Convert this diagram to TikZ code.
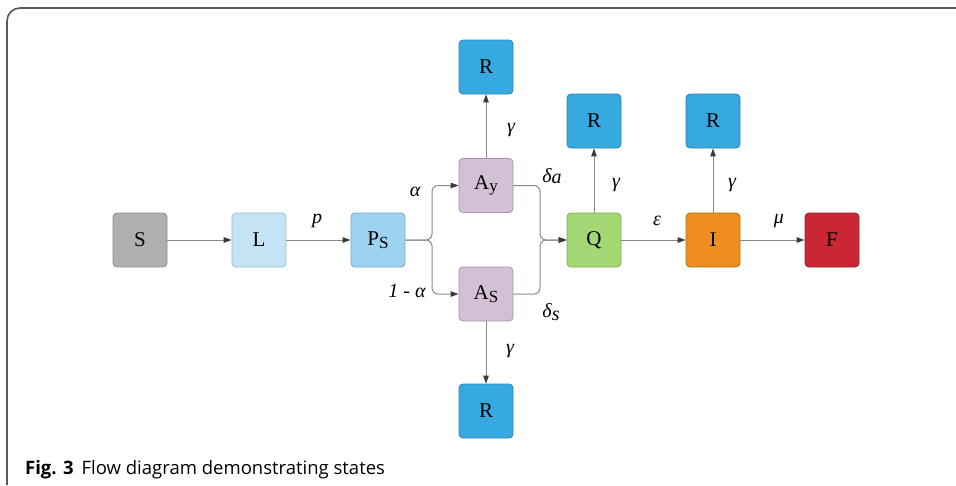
\documentclass[tikz,border=0pt]{standalone}
\usepackage{fontspec}
\setmainfont{Liberation Serif}
\newfontfamily\capfont{Open Sans}
\usetikzlibrary{arrows.meta}
\definecolor{cS}{HTML}{AFAFAF}\definecolor{bS}{HTML}{8C8C8C}
\definecolor{cL}{HTML}{C4E4F6}\definecolor{bL}{HTML}{9CBFD4}
\definecolor{cP}{HTML}{9BD3F1}\definecolor{bP}{HTML}{74A9C8}
\definecolor{cA}{HTML}{D4BFD7}\definecolor{bA}{HTML}{A892AC}
\definecolor{cR}{HTML}{36A9E0}\definecolor{bR}{HTML}{2A84B0}
\definecolor{cQ}{HTML}{A3D875}\definecolor{bQ}{HTML}{7EAD55}
\definecolor{cI}{HTML}{EE8E1E}\definecolor{bI}{HTML}{B56C17}
\definecolor{cF}{HTML}{CA2634}\definecolor{bF}{HTML}{9A1D28}
\definecolor{edge}{HTML}{8A8A8A}
\definecolor{tip}{HTML}{3A3A3A}
\newcommand{\sub}[1]{\raisebox{-2.5pt}{\fontsize{17}{17}\selectfont #1}}
\tikzset{
  box/.style={draw=b#1, fill=c#1, rounded corners=4pt, line width=0.8pt,
    minimum width=54pt, minimum height=54pt, inner sep=0pt,
    font=\fontsize{21}{21}\selectfont},
  flow/.style={draw=edge, line width=1pt, -{Triangle[length=8pt,width=5.5pt,color=tip]}},
  lab/.style={font=\fontsize{20}{20}\selectfont\itshape, inner sep=0pt},
}
\begin{document}
\begin{tikzpicture}[x=1pt,y=-1pt]
\useasboundingbox (0,0) rectangle (956,485);
% frame
\draw[color=black!65, line width=1.6pt, rounded corners=13pt] (956,8) -- (7,8) -- (7,485);
% nodes
\node[box=S] (S) at (140,240) {S};
\node[box=L] (L) at (259,240) {L};
\node[box=P] (Ps) at (378,240) {P\sub{S}};
\node[box=A] (Ay) at (486,185.5) {A\sub{y}};
\node[box=A] (As) at (486,294) {A\sub{S}};
\node[box=R] (R1) at (486,67) {R};
\node[box=R] (R2) at (486,411) {R};
\node[box=Q] (Q) at (594,240) {Q};
\node[box=R] (R3) at (594,121) {R};
\node[box=I] (I) at (713,240) {I};
\node[box=R] (R4) at (713,121) {R};
\node[box=F] (F) at (832,240) {F};
\coordinate (j1) at (432,240);
\coordinate (j2) at (540,240);
% connectors
\draw[flow] (S) -- (L);
\draw[flow] (L) -- (Ps);
\draw[flow, rounded corners=6pt] (Ps.east) -- (j1) |- (Ay.west);
\draw[flow, rounded corners=6pt] (Ps.east) -- (j1) |- (As.west);
\draw[flow, rounded corners=6pt] (Ay.east) -| (j2) -- (Q.west);
\draw[flow, rounded corners=6pt] (As.east) -| (j2) -- (Q.west);
\draw[flow] (Ay) -- (R1);
\draw[flow] (As) -- (R2);
\draw[flow] (Q) -- (R3);
\draw[flow] (I) -- (R4);
\draw[flow] (Q) -- (I);
\draw[flow] (I) -- (F);
% labels
\node[lab] (lp) at (317,221) {p};
\node[lab] (la) at (415,192) {α};
\node[lab] (l1a) at (407,291) {1 - α};
\node[lab] (lda) at (552,176) {δ\raisebox{-1pt}{a}};
\node[lab] (lds) at (551,312) {δ\raisebox{-3pt}{s}};
\node[lab] (lg1) at (511,130) {γ};
\node[lab] (lg2) at (510,351) {γ};
\node[lab] (lg3) at (616,185) {γ};
\node[lab] (lg4) at (732,185) {γ};
\node[lab] (le) at (657,221) {ε};
\node[lab] (lm) at (779,221) {μ};
% caption
\node[anchor=base west, inner sep=0pt, font=\capfont\fontsize{18.5}{18.5}\selectfont] (cap) at (25,474)
  {\textbf{Fig. 3}\hspace{8pt}Flow diagram demonstrating states};
\end{tikzpicture}
\end{document}
